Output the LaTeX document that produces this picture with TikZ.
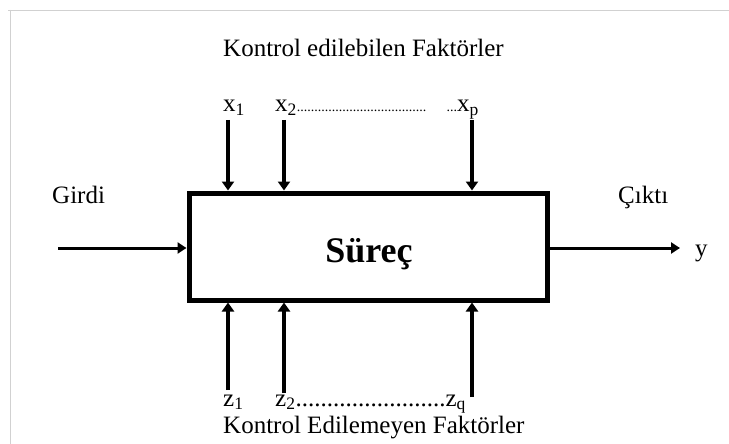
\documentclass[tikz,border=0pt]{standalone}
\usepackage{fontspec}
\setmainfont{Liberation Serif}
\usetikzlibrary{arrows.meta}
\begin{document}
\begin{tikzpicture}[x=1pt,y=-1pt,
  lbl/.style={font=\fontsize{25}{27}\selectfont, inner sep=0pt},
  varrow/.style={line width=4pt, -{Triangle[length=9pt,width=12pt]}},
  harrow/.style={line width=3pt, -{Triangle[length=9pt,width=11pt]}},
  frame/.style={draw=black!18, line width=1pt}]
\useasboundingbox (0,0) rectangle (729,444);
\draw[frame] (8,10.5) -- (729,10.5);
\draw[frame] (10.5,10) -- (10.5,444);
% process box
\node[draw, line width=5pt, minimum width=358pt, minimum height=107pt, inner sep=0pt] (box) at (368,246.5) {};
\node[inner sep=0pt, font=\fontsize{36}{40}\selectfont\bfseries] (proc) at (369,254) {Süreç};
% titles
\node[lbl, anchor=base west] (ttop) at (223,57) {Kontrol edilebilen Faktörler};
\node[lbl, anchor=base west] (tbot) at (223,433) {Kontrol Edilemeyen Faktörler};
% controllable factors
\node[lbl, anchor=base west] (x1) at (223,112) {x\textsubscript{1}};
\node[lbl, anchor=base west] (x2) at (275,112) {x\textsubscript{2}{\fontsize{14}{14}\selectfont .....................................}};
\node[lbl, anchor=base east] (xp) at (479,112) {{\fontsize{14}{14}\selectfont ...}x\textsubscript{p}};
\coordinate (a1) at (228,120);
\coordinate (a2) at (284,120);
\coordinate (ap) at (472,120);
\draw[varrow] (a1) -- (a1 |- box.north);
\draw[varrow] (a2) -- (a2 |- box.north);
\draw[varrow] (ap) -- (ap |- box.north);
% uncontrollable factors
\node[lbl, anchor=base west] (z1) at (223,406) {z\textsubscript{1}};
\node[lbl, anchor=base west] (z2) at (275,406) {z\textsubscript{2}........................z\textsubscript{q}};
\coordinate (b1) at (228,390);
\coordinate (b2) at (284,393);
\coordinate (bq) at (472,397);
\draw[varrow] (b1) -- (b1 |- box.south);
\draw[varrow] (b2) -- (b2 |- box.south);
\draw[varrow] (bq) -- (bq |- box.south);
% input / output
\node[lbl, anchor=base west] (girdi) at (52,203) {Girdi};
\node[lbl, anchor=base west] (cikti) at (618,203) {Çıktı};
\node[lbl, anchor=base west] (y) at (695,256) {y};
\coordinate (in) at (58,248);
\coordinate (out) at (680,248);
\draw[harrow] (in) -- (in -| box.west);
\draw[harrow] (box.east |- out) -- (out);
\end{tikzpicture}
\end{document}
